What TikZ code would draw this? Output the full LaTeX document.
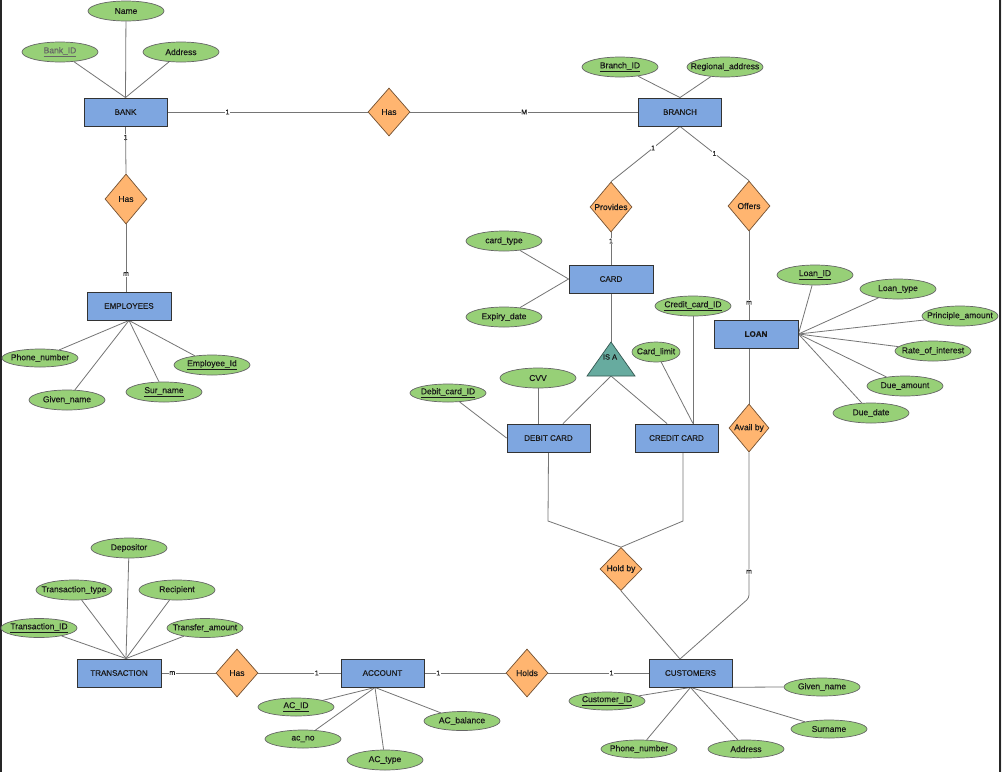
\documentclass[tikz,border=0pt]{standalone}
\usepackage{fontspec}
\setmainfont{Liberation Sans}[FakeBold=0.35]
\usetikzlibrary{shapes.geometric,calc,backgrounds}
\definecolor{entfill}{HTML}{7EA6E0}
\definecolor{attfill}{HTML}{97D077}
\definecolor{relfill}{HTML}{FFB570}
\definecolor{isafill}{HTML}{67AB9F}
\definecolor{linec}{HTML}{757575}
\definecolor{txt}{HTML}{1A1A1A}
\newcommand\zb[1]{\makebox[0pt][c]{#1}}
\begin{document}
\begin{tikzpicture}[x=1pt,y=-1pt,
  entity/.style={draw=black!80, fill=entfill, minimum width=83pt, minimum height=28pt, inner sep=0pt, line width=0.9pt, text=txt, font=\fontsize{8}{9}\selectfont},
  attr/.style={ellipse, draw=black!60, fill=attfill, minimum width=76pt, minimum height=20pt, inner sep=0pt, line width=0.7pt, text=txt, font=\fontsize{8.5}{9}\selectfont},
  rel/.style={diamond, draw=black!55!relfill, fill=relfill, minimum width=42pt, minimum height=48pt, inner sep=0pt, line width=0.7pt, text=txt, font=\fontsize{8.5}{9}\selectfont},
  conn/.style={draw=linec, line width=0.8pt},
  crd/.style={font=\fontsize{7}{8}\selectfont, fill=white, inner sep=0.6pt, text=txt},
]
\useasboundingbox (0,0) rectangle (1002,772);

% ---------- BANK ----------
\node[entity] (bank) at (125.5,112) {BANK};
\node[attr] (name) at (126,11) {\zb{Name}};
\node[attr] (bankid) at (60,52) {\zb{\textcolor{black!60}{\underline{Bank\_ID}}}};
\node[attr] (baddr) at (181,52) {\zb{Address}};
\node[rel] (has1) at (389,112) {\zb{Has}};
\node[entity] (branch) at (680,112) {BRANCH};
\node[attr] (branchid) at (620,67) {\zb{\underline{Branch\_ID}}};
\node[attr] (regaddr) at (725,67) {\zb{Regional\_address}};
\node[rel, minimum height=50pt] (has2) at (126,199) {\zb{Has}};

% ---------- EMPLOYEES ----------
\node[entity, minimum width=84pt] (emp) at (129,306) {EMPLOYEES};
\node[attr, minimum height=18pt] (phone1) at (40,358) {\zb{Phone\_number}};
\node[attr] (given1) at (67,400) {\zb{Given\_name}};
\node[attr] (surname1) at (164,392) {\zb{\underline{Sur\_name}}};
\node[attr] (empid) at (212,365) {\zb{\underline{Employee\_Id}}};

% ---------- CARD ----------
\node[rel, minimum height=50pt] (provides) at (611,207) {\zb{Provides}};
\node[rel, minimum height=50pt] (offers) at (749,206) {\zb{Offers}};
\node[entity, minimum width=84pt] (card) at (611,279) {CARD};
\node[attr] (cardtype) at (504,241) {\zb{card\_type}};
\node[attr] (expiry) at (504,317) {\zb{Expiry\_date}};
\coordinate (isatop) at (611,342);
\coordinate (isal) at (587,376);
\coordinate (isar) at (635,376);
\coordinate (isab) at (611,376);
\filldraw[fill=isafill, draw=black!50!isafill, line width=0.7pt] (isatop) -- (isar) -- (isal) -- cycle;
\node[text=txt, font=\fontsize{7.5}{8}\selectfont, inner sep=0pt] (isa) at (610,357) {IS A};
\node[entity] (debit) at (548.5,438) {DEBIT CARD};
\node[entity] (credit) at (676.5,438) {CREDIT CARD};
\node[attr, minimum height=18pt] (debitid) at (448,393) {\zb{\underline{Debit\_card\_ID}}};
\node[attr] (cvv) at (538,378) {\zb{CVV}};
\node[attr, minimum width=48pt] (cardlimit) at (656,352) {\zb{Card\_limit}};
\node[attr] (creditid) at (693,306) {\zb{\underline{Credit\_card\_ID}}};

% ---------- LOAN ----------
\node[entity, minimum width=84pt] (loan) at (756,334) {\textbf{LOAN}};
\node[attr] (loanid) at (815,275) {\zb{\underline{Loan\_ID}}};
\node[attr] (loantype) at (898,289) {\zb{Loan\_type}};
\node[attr] (principle) at (960,316) {\zb{Principle\_amount}};
\node[attr] (rate) at (933,351) {\zb{Rate\_of\_interest}};
\node[attr] (dueamt) at (905,386) {\zb{Due\_amount}};
\node[attr] (duedate) at (871,413) {\zb{Due\_date}};
\node[rel, minimum width=40pt] (avail) at (749,428) {\zb{Avail by}};
\node[rel, minimum height=43pt] (holdby) at (621,569) {\zb{Hold by}};

% ---------- CUSTOMERS ----------
\node[entity] (cust) at (690.5,673) {CUSTOMERS};
\node[attr, minimum height=18pt] (custid) at (607,701) {\zb{\underline{Customer\_ID}}};
\node[attr, minimum height=18pt] (given2) at (822,687) {\zb{Given\_name}};
\node[attr, minimum height=18pt] (surname2) at (829,729) {\zb{Surname}};
\node[attr, minimum height=18pt] (phone2) at (639,749) {\zb{Phone\_number}};
\node[attr, minimum height=18pt] (addr2) at (746,749) {\zb{Address}};

% ---------- ACCOUNT / TRANSACTION ----------
\node[entity] (account) at (382.5,673) {ACCOUNT};
\node[rel] (has3) at (237,673) {\zb{Has}};
\node[rel] (holds) at (527,673) {\zb{Holds}};
\node[entity, minimum width=84pt] (trans) at (119,673) {TRANSACTION};
\node[attr] (depositor) at (129,548) {\zb{Depositor}};
\node[attr] (ttype) at (74,590) {\zb{Transaction\_type}};
\node[attr] (recipient) at (177,590) {\zb{Recipient}};
\node[attr, minimum height=19pt] (tid) at (39,628) {\zb{\underline{Transaction\_ID}}};
\node[attr, minimum height=19pt] (tamount) at (205,628) {\zb{Transfer\_amount}};
\node[attr, minimum height=18pt] (acid) at (296,707) {\zb{\underline{AC\_ID}}};
\node[attr, minimum height=18pt] (acno) at (303,739) {\zb{ac\_no}};
\node[attr] (actype) at (385,760) {\zb{AC\_type}};
\node[attr, minimum height=19pt] (acbal) at (462,721) {\zb{AC\_balance}};

\coordinate (transtop) at ($(trans.north)+(7,0)$);
\coordinate (accbot) at ($(account.south)+(-7.5,0)$);
\coordinate (custtop) at (680,659);
\coordinate (availbend) at (749,598);
\coordinate (hb1) at (548,521);
\coordinate (hb2) at (683,521);

\begin{scope}[on background layer]
\fill[white] (0,0) rectangle (1002,772);
\fill[black!85] (0,0) rectangle (1.5,772);
\fill[black!85] (998.5,0) rectangle (1001,772);
\fill[gray!12] (1001,0) rectangle (1002,772);
% bank
\draw[conn] (name) -- (bank.north);
\draw[conn] (bankid) -- (bank.north);
\draw[conn] (baddr) -- (bank.north);
\draw[conn] (bank) -- node[crd, pos=0.30] {1} (has1);
\draw[conn] (has1) -- node[crd, pos=0.50] {M} (branch);
\draw[conn] (branchid) -- (branch.north);
\draw[conn] (regaddr) -- (branch.north);
\draw[conn] (bank.south) -- node[crd, pos=0.23] {1} (has2.north);
\draw[conn] (has2.south) -- node[crd, pos=0.74] {m} (has2.south |- emp.north);
% employees
\draw[conn] (phone1) -- (emp.south);
\draw[conn] (given1) -- (emp.south);
\draw[conn] (surname1) -- (emp.south);
\draw[conn] (empid) -- (emp.south);
% branch
\draw[conn] (branch.south) -- node[crd, pos=0.39] {1} (provides.north);
\draw[conn] (branch.south) -- node[crd, pos=0.50] {1} (offers.north);
\draw[conn] (provides.south) -- node[crd, pos=0.27] {1} (card.north);
\draw[conn] (cardtype) -- (card.west);
\draw[conn] (expiry) -- (card.west);
\draw[conn] (card.south) -- (isatop);
\draw[conn] (isab) -- ($(debit.north)+(14.5,0)$);
\draw[conn] (isab) -- ($(credit.north)+(-9.5,0)$);
\draw[conn] (debitid) -- (debit.west);
\draw[conn] (cvv.south) -- (cvv.south |- debit.north);
\draw[conn] (cardlimit) -- ($(credit.north)+(16.5,0)$);
\draw[conn] (creditid.south) -- (creditid.south |- credit.north);
% loan
\draw[conn] (offers.south) -- node[crd, pos=0.81] {m} (offers.south |- loan.north);
\draw[conn] (loanid) -- (loan.east);
\draw[conn] (loantype) -- (loan.east);
\draw[conn] (principle) -- (loan.east);
\draw[conn] (rate) -- (loan.east);
\draw[conn] (dueamt) -- (loan.east);
\draw[conn] (duedate) -- (loan.east);
\draw[conn] (avail.north |- loan.south) -- (avail.north);
\draw[conn, rounded corners=3pt] (avail.south) -- node[crd, pos=0.82] {m} (availbend) -- (custtop);
% hold by
\draw[conn] (debit.south) -- (hb1) -- (holdby.north);
\draw[conn] ($(credit.south)+(6.5,0)$) -- (hb2) -- (holdby.north);
\draw[conn] (holdby.south) -- (custtop);
% customers
\draw[conn] (custid) -- (cust.south);
\draw[conn] (given2.west) -- (cust.south);
\draw[conn] (surname2) -- (cust.south);
\draw[conn] (phone2) -- (cust.south);
\draw[conn] (addr2) -- (cust.south);
% account / transaction
\draw[conn] (trans) -- node[crd, pos=0.20] {m} (has3);
\draw[conn] (has3) -- node[crd, pos=0.71] {1} (account);
\draw[conn] (account) -- node[crd, pos=0.17] {1} (holds);
\draw[conn] (holds) -- node[crd, pos=0.63] {1} (cust);
\draw[conn] (depositor) -- (transtop);
\draw[conn] (ttype) -- (transtop);
\draw[conn] (recipient) -- (transtop);
\draw[conn] (tid) -- (transtop);
\draw[conn] (tamount) -- (transtop);
\draw[conn] (acid) -- (accbot);
\draw[conn] (acno) -- (accbot);
\draw[conn] (actype) -- (accbot);
\draw[conn] (acbal) -- (accbot);
\end{scope}
\end{tikzpicture}
\end{document}
